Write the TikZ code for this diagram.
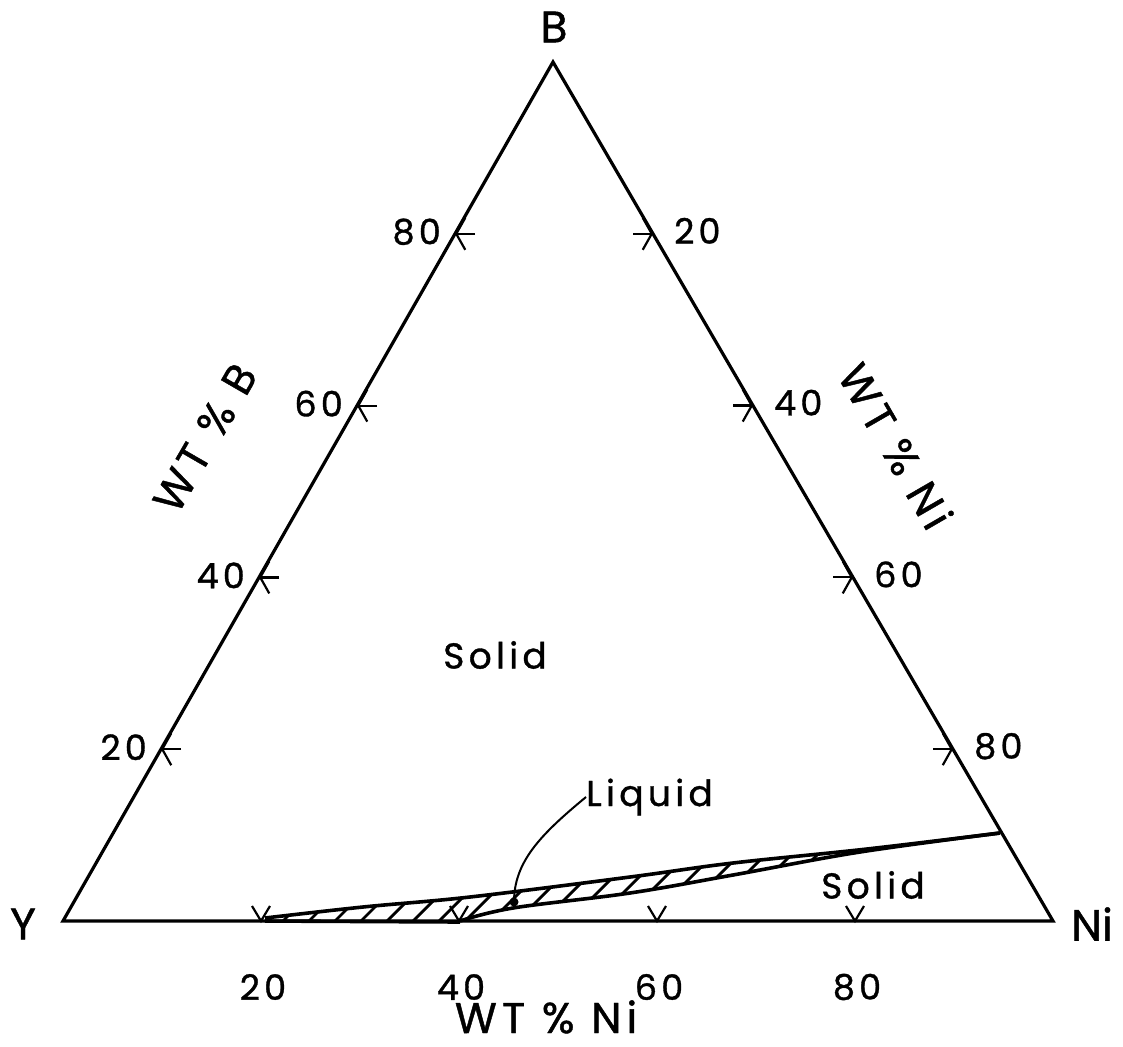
\documentclass[tikz,border=0pt]{standalone}
\usepackage{fontspec}
\setmainfont{Poppins}[FakeBold=1]
\newfontfamily\letterfont[LetterSpace=12, FakeBold=1]{Poppins}
\usetikzlibrary{arrows.meta, calc}

\begin{document}
\begin{tikzpicture}[
        x=1pt, y=-1pt,
        edge/.style={line width=3.2pt, line join=miter},
        cornerLabel/.style={font=\fontsize{44}{50}\selectfont, inner sep=0pt},
        tickLabel/.style={font=\letterfont\fontsize{35}{40}\selectfont, inner sep=0pt},
        axisTitle/.style={font=\letterfont\fontsize{43}{50}\selectfont, inner sep=0pt},
        phaseLabel/.style={font=\letterfont\fontsize{36}{40}\selectfont, inner sep=0pt},
        tickBarb/.style={line width=2.2pt, -{Straight Barb[length=9pt,width=32pt]}},
        bandLine/.style={line width=3.6pt, line join=round},
        hatch/.style={line width=2.8pt}
    ]
        \useasboundingbox (0,0) rectangle (1123,1046);

        % Corners
        \coordinate (Y) at (63,921);
        \coordinate (Ni) at (1053,921);
        \coordinate (B) at (553,62);
        \node (labelB) [cornerLabel] at (554,27) {B};
        \node (labelY) [cornerLabel] at (23,924) {Y};
        \node (labelNi) [cornerLabel] at (1092,924) {Ni};

        \draw [edge] (Y) -- (B) -- (Ni) -- cycle;

        % Ticks
        \foreach \k in {20,40,60,80} {
            \coordinate (left\k) at ($(Y)!\k/100!(B)$);
            \coordinate (right\k) at ($(B)!\k/100!(Ni)$);
            \coordinate (base\k) at ($(Y)!\k/100!(Ni)$);
            \draw [tickBarb] ($(left\k)+(20,0)$) -- (left\k);
            \draw [tickBarb] ($(right\k)+(-20,0)$) -- (right\k);
            \draw [line width=2.2pt] ($(base\k)+(-9,-15)$) -- (base\k) -- ($(base\k)+(9,-15)$);
            \node [tickLabel, anchor=east] at ($(left\k)+(-14,-2)$) {\k};
            \node [tickLabel, anchor=west] at ($(right\k)+(21,-3)$) {\k};
            \node [tickLabel] at ($(base\k)+(2,66)$) {\k};
        }

        % Axis titles
        \node (titleB) [axisTitle, rotate=60] at (205,438) {WT \% B};
        \node (titleNiRight) [axisTitle, rotate=-60] at (896,446) {WT \% Ni};
        \node (titleNiBase) [axisTitle, anchor=base] at (546,1033) {WT \% Ni};

        % Liquid band
        \begin{scope}
            \clip plot[smooth, tension=0.6] coordinates {(265,918) (363,907) (470,897) (630,877) (733,863) (867,849) (1000,833)}
                -- plot[smooth, tension=0.6] coordinates {(1000,833) (860,852) (733,875) (630,893) (513,908) (460,921)}
                -- (265,922) -- cycle;
            \foreach \x in {150,176,...,1020}
                \draw [hatch] (\x,950) -- ++(100,-100);
        \end{scope}
        \draw [bandLine] plot[smooth, tension=0.6] coordinates {(265,918) (363,907) (470,897) (630,877) (733,863) (867,849) (1000,833)};
        \draw [bandLine] plot[smooth, tension=0.6] coordinates {(1000,833) (860,852) (733,875) (630,893) (513,908) (460,921)};
        \draw [bandLine] (460,922) -- (265,921);

        % Phase labels
        \node (solidTop) [phaseLabel] at (495,655) {Solid};
        \node (solidLow) [phaseLabel] at (873,885) {Solid};
        \node (liquidLbl) [phaseLabel, anchor=west] at (586,797) {Liquid};
        \coordinate (liquidDot) at (514,902);
        \fill (liquidDot) circle (4.5);
        \draw [line width=2pt] (liquidLbl.west) .. controls (540,835) and (514,862) .. (liquidDot);
    \end{tikzpicture}
\end{document}
